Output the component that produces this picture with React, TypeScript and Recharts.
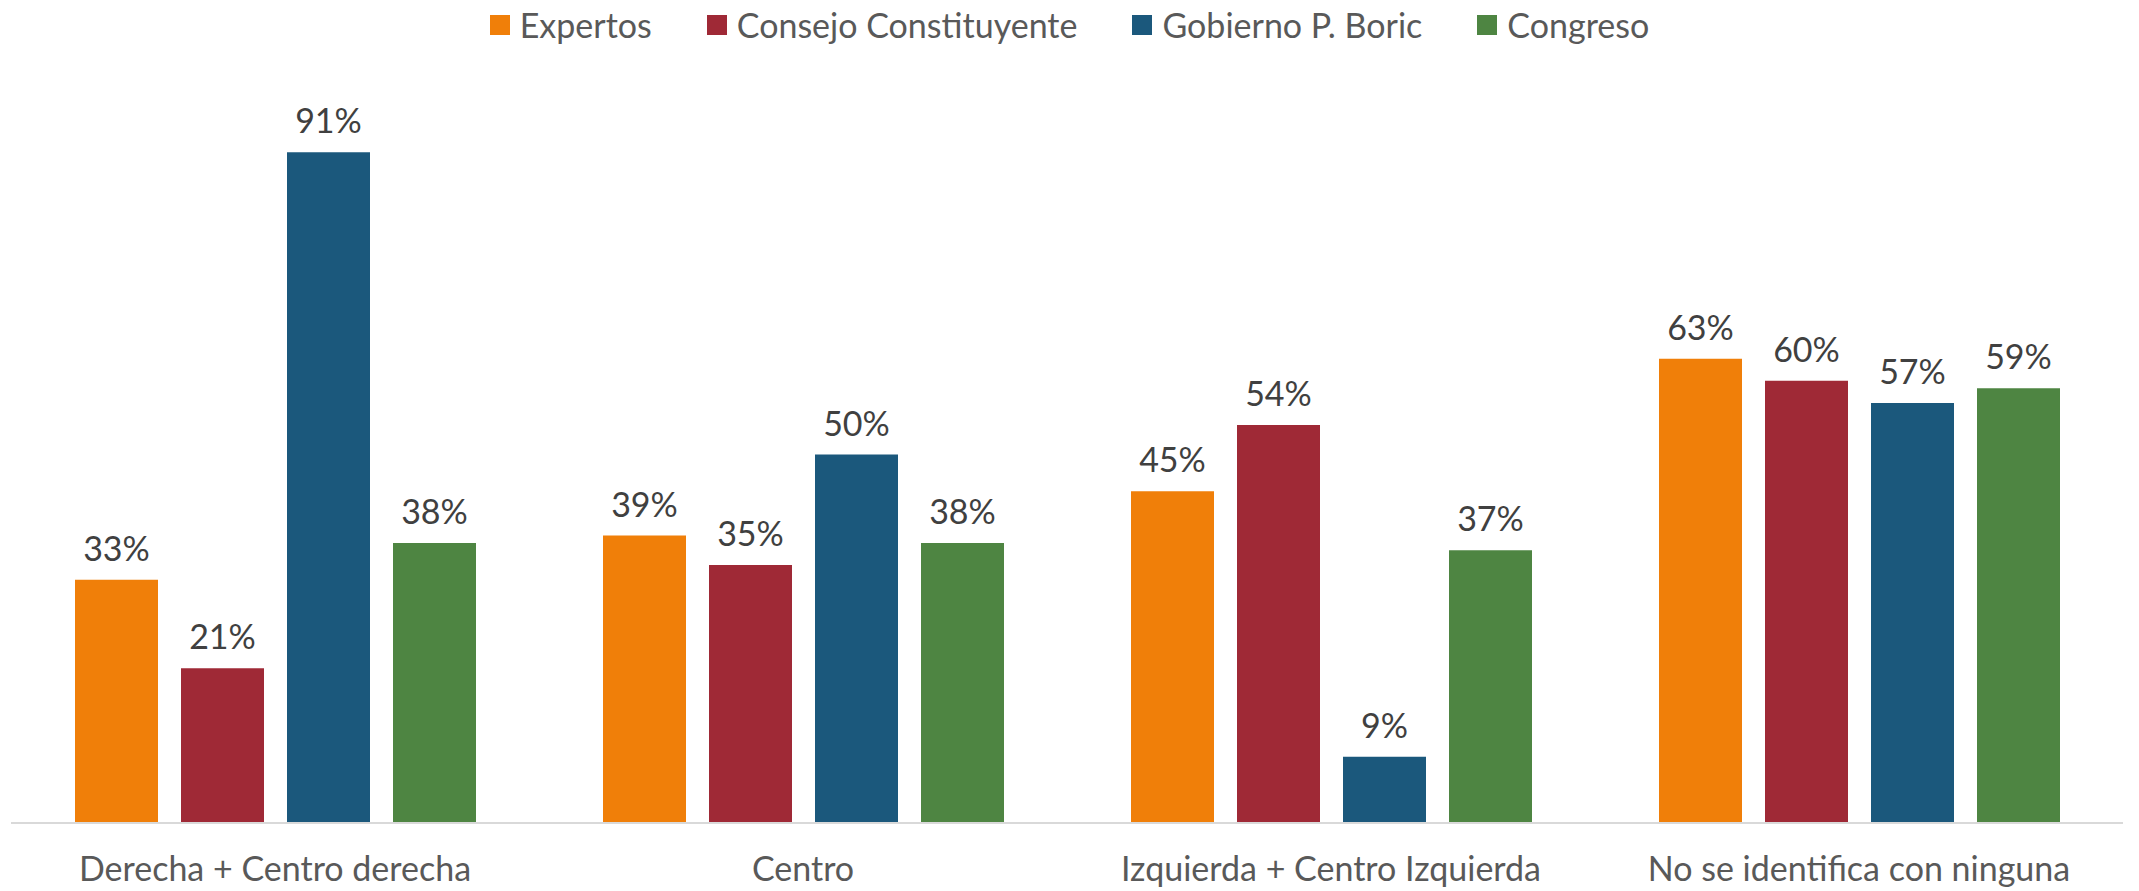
import React from "react";
import { BarChart, Bar, XAxis, YAxis, Legend, LabelList } from "recharts";

const categories = [
  "Derecha + Centro derecha",
  "Centro",
  "Izquierda + Centro Izquierda",
  "No se identifica con ninguna",
];
const seriesNames = ["Expertos", "Consejo Constituyente", "Gobierno P. Boric", "Congreso"];
const seriesColors = ["#F07F09", "#9F2936", "#1B587C", "#4E8542"];
const expertos = [33, 39, 45, 63];
const consejo = [21, 35, 54, 60];
const gobierno = [91, 50, 9, 57];
const congreso = [38, 38, 37, 59];
const seriesValues = [expertos, consejo, gobierno, congreso];
const keys = ["s0", "s1", "s2", "s3"];

const data = categories.map((c, i) => {
  const row: any = { name: c };
  keys.forEach((k, j) => (row[k] = seriesValues[j][i]));
  return row;
});

const FONT = "Lato, 'Open Sans', sans-serif";

const LegendContent = () => (
  <div style={{ display: "flex", justifyContent: "center", alignItems: "center", fontFamily: FONT, fontSize: 34, color: "#595959" }}>
    {seriesNames.map((n, i) => (
      <div key={n} style={{ display: "flex", alignItems: "center", marginRight: i < seriesNames.length - 1 ? 55 : 0 }}>
        <span style={{ width: 20, height: 20, background: seriesColors[i], display: "inline-block", marginRight: 10 }} />
        <span>{n}</span>
      </div>
    ))}
  </div>
);

export default function App() {
  return (
    <div style={{ position: "absolute", left: 0, top: 0, width: 2139, height: 891, background: "#fff" }}>
      <BarChart
        width={2139}
        height={891}
        data={data}
        margin={{ top: 86, right: 16, bottom: 0, left: 11 }}
        barCategoryGap={64}
        barGap={23}
      >
        <XAxis
          dataKey="name"
          axisLine={{ stroke: "#D9D9D9", strokeWidth: 2 }}
          tickLine={false}
          tickSize={0}
          tickMargin={34}
          height={68}
          interval={0}
          tick={{ fill: "#595959", fontSize: 34, fontFamily: FONT }}
        />
        <YAxis hide domain={[0, 100]} />
        <Legend verticalAlign="middle" wrapperStyle={{ top: 4, left: 0, width: 2139 }} content={<LegendContent />} />
        {keys.map((k, j) => (
          <Bar key={k} dataKey={k} name={seriesNames[j]} fill={seriesColors[j]} isAnimationActive={false}>
            <LabelList
              dataKey={k}
              position="top"
              offset={19}
              formatter={(v: any) => `${v}%`}
              style={{ fill: "#404040", fontSize: 34, fontFamily: FONT }}
            />
          </Bar>
        ))}
      </BarChart>
    </div>
  );
}
